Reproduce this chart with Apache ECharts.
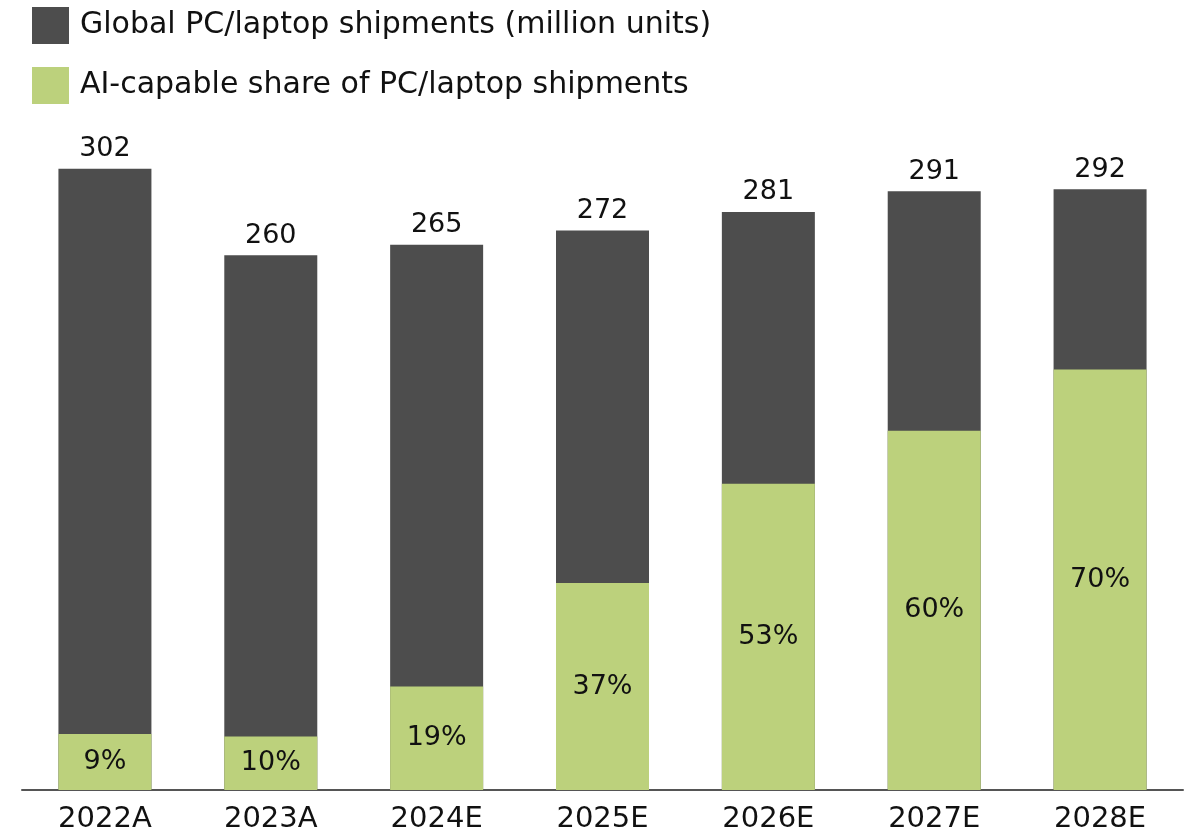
<!DOCTYPE html>
<html>
<head>
<meta charset="utf-8">
<script src="https://cdn.jsdelivr.net/npm/echarts@6/dist/echarts.min.js"></script>
<style>
html,body{margin:0;padding:0;background:#fff;}
#chart{width:1195px;height:838px;}
</style>
</head>
<body>
<div id="chart"></div>
<script>
const categories = ['2022A','2023A','2024E','2025E','2026E','2027E','2028E'];
const shipments = [302, 260, 265, 272, 281, 291, 292];
const aiShare = [9, 10, 19, 37, 53, 60, 70];
const seriesNames = ['Global PC/laptop shipments (million units)', 'AI-capable share of PC/laptop shipments'];

const aiUnits = shipments.map((v, i) => v * aiShare[i] / 100);
const FONT = 'DejaVu Sans';

const chart = echarts.init(document.getElementById('chart'));
chart.setOption({
  animation: false,
  textStyle: { fontFamily: FONT },
  legend: {
    orient: 'vertical',
    left: 27, top: 2,
    itemWidth: 37, itemHeight: 37, itemGap: 23,
    icon: 'rect',
    textStyle: { fontSize: 30, color: '#111', fontFamily: FONT, padding: [0,0,0,6] },
    data: seriesNames
  },
  grid: { left: 22, right: 12, top: 70, bottom: 48, containLabel: false },
  xAxis: {
    type: 'category',
    data: categories,
    axisLine: { show: true, lineStyle: { color: '#555', width: 2 } },
    axisTick: { show: false },
    axisLabel: { fontSize: 29, color: '#111', margin: 15, fontFamily: FONT }
  },
  yAxis: {
    type: 'value', min: 0, max: 350,
    show: false,
    splitLine: { show: false }
  },
  series: [
    {
      name: seriesNames[0], type: 'bar', data: shipments,
      barWidth: 93, barGap: '-100%',
      itemStyle: { color: '#4d4d4d' },
      label: { show: true, position: 'top', distance: 6, fontSize: 27, color: '#111', fontFamily: FONT }
    },
    {
      name: seriesNames[1], type: 'bar', data: aiUnits,
      barWidth: 93, barGap: '-100%',
      itemStyle: { color: '#bcd17c' },
      label: { show: true, position: 'inside', fontSize: 27, color: '#111', fontFamily: FONT,
        formatter: p => aiShare[p.dataIndex] + '%' }
    }
  ]
});
</script>
</body>
</html>
